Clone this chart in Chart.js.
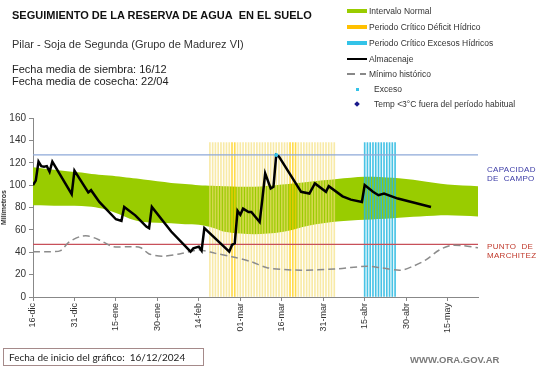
<!DOCTYPE html>
<html>
<head>
<meta charset="utf-8">
<script src="https://cdn.jsdelivr.net/npm/chart.js@4"></script>
<style>
  body { margin: 0; background: #fff; font-family: "Liberation Sans", Arial, sans-serif; color: #222; }
  #wrap { position: absolute; left: 0; top: 0; width: 541px; height: 368px; }
  .txt { position: absolute; white-space: nowrap; }
  .leg { position: absolute; font-size: 8.5px; color: #333; white-space: nowrap; line-height: 10px; }
  .sw { position: absolute; }
</style>
</head>
<body>
<div id="wrap"><canvas id="chart"></canvas></div>

<div class="txt" style="left:12px;top:9px;font-size:11px;font-weight:bold;color:#111;">SEGUIMIENTO DE LA RESERVA DE AGUA&nbsp; EN EL SUELO</div>
<div class="txt" style="left:12px;top:38px;font-size:11px;color:#333;">Pilar - Soja de Segunda (Grupo de Madurez VI)</div>
<div class="txt" style="left:12px;top:63px;font-size:11px;line-height:12px;color:#222;">Fecha media de siembra: 16/12<br>Fecha media de cosecha: 22/04</div>

<div class="sw" style="left:347px;top:9px;width:20px;height:4px;background:#99cc00;"></div>
<div class="leg" style="left:369px;top:6px;">Intervalo Normal</div>
<div class="sw" style="left:347px;top:25px;width:20px;height:4px;background:#ffc000;"></div>
<div class="leg" style="left:369px;top:22px;">Periodo Crítico Déficit Hídrico</div>
<div class="sw" style="left:347px;top:41px;width:20px;height:4px;background:#33c3e8;"></div>
<div class="leg" style="left:369px;top:38px;">Periodo Crítico Excesos Hídricos</div>
<div class="sw" style="left:347px;top:58px;width:20px;height:2px;background:#000;"></div>
<div class="leg" style="left:369px;top:54px;">Almacenaje</div>
<div class="sw" style="left:347px;top:73px;width:8px;height:1.5px;background:#888;"></div>
<div class="sw" style="left:360px;top:73px;width:6px;height:1.5px;background:#888;"></div>
<div class="leg" style="left:369px;top:69px;">Mínimo histórico</div>
<div class="sw" style="left:356px;top:88px;width:3px;height:3px;background:#33c3e8;"></div>
<div class="leg" style="left:374px;top:84px;">Exceso</div>
<div class="sw" style="left:355px;top:102px;width:4px;height:4px;background:#1a1a8c;transform:rotate(45deg);"></div>
<div class="leg" style="left:374px;top:99px;">Temp &lt;3°C fuera del período habitual</div>

<div class="txt" style="left:487px;top:165px;font-size:8px;line-height:9px;color:#3b3ba6;letter-spacing:0.3px;">CAPACIDAD<br>DE&nbsp; CAMPO</div>
<div class="txt" style="left:487px;top:242px;font-size:8px;line-height:9px;color:#c0392b;letter-spacing:0.3px;">PUNTO&nbsp; DE<br>MARCHITEZ</div>

<div class="txt" style="left:3px;top:348px;height:18px;border:1px solid #a58a8a;font-family:Lato,sans-serif;font-size:10px;line-height:17px;color:#222;padding-left:5px;box-sizing:border-box;width:201px;">Fecha de inicio del gráfico:&nbsp; 16/12/2024</div>
<div class="txt" style="left:410px;top:354px;font-size:9.5px;font-weight:bold;color:#7a7a7a;">WWW.ORA.GOV.AR</div>

<script>
// eje x en días desde el 16-dic
const xTickDays = [0, 15, 30, 45, 60, 75, 90, 105, 120, 135, 150];
const xTickLabels = ["16-dic", "31-dic", "15-ene", "30-ene", "14-feb", "01-mar", "16-mar", "31-mar", "15-abr", "30-abr", "15-may"];
const xMaxDay = 161;

// intervalo normal
const bandDays  = [0,   10,   20,    25,  30,  35,    40,  50,  55,  60,  65,   70, 80,   90,    100, 110,   120,   130,   140, 150,   161];
const bandUpper = [116, 113,  110.5, 109, 108, 106.5, 105, 102, 101, 100, 99.5, 99, 98.5, 100.5, 103, 105.5, 107.5, 106.5, 104, 100.5, 99];
const bandLower = [82,  81.5, 81,    79,  75,  70,    67,  66,  65,  64.5, 62,  58, 56,   58,    64,  67.5,  69,    70.5,  72,  73,    72];

// mínimo histórico
const minDays   = [0,    6,    10,   13, 17, 20,   24, 29, 35, 39, 42,   47,   53,   60, 66, 72, 79,   85, 97, 109, 121,  126, 133, 137, 142, 147, 151, 155, 161];
const minValues = [40.5, 40.5, 41.5, 49, 54, 54.5, 51, 45, 45, 44, 38.5, 36.5, 38.5, 42, 39, 36, 31.5, 26, 24, 25,  27.5, 26,  24,  27,  33,  42,  46,  46,  44];

// almacenaje
const storeDays   = [0,   1,   2,   3,   4,     5,   6,   7,   14, 15,  20,   21,   24, 30,   32, 33,   37, 38,   41, 42,   43,   50,   57,   58,   60, 61,   62,   71,   72,   73, 74, 75,   76, 78, 79, 82, 83, 84,    86, 87,   88,  89,    97, 100,  102,   106, 107, 112, 115, 119, 120, 123, 125, 127,  132, 144];
const storeValues = [100, 104, 121, 117, 116.5, 117, 112, 121, 92, 113, 93.5, 95.5, 85, 69.5, 68, 80.5, 73, 70.5, 63, 61.5, 80.5, 58.5, 40.5, 43.5, 45, 41.5, 61.5, 40.5, 46.5, 48, 77, 73.5, 79, 76, 76, 67, 88, 110.5, 97, 98.5, 127, 125.5, 94, 92.5, 101.5, 94,  99,  90,  87,  85,  100, 94,  91,  92.5, 88,  80.5];

// excesos puntuales
const excessDays = [88];
const excessValues = [127];

// periodos críticos (días)
const deficitPeriod = [64, 109];
const deficitStrongDays = [72, 73, 93, 94, 95];
const excessPeriod = [120, 131];
const periodTop = 138;

const fieldCapacity = 127;
const wiltingPoint = 47;

function toPoints(xs, ys) {
  return xs.map((x, i) => ({ x: x, y: ys[i] }));
}

function periodBars(period, top) {
  const pts = [];
  for (let d = period[0]; d <= period[1]; d++) {
    pts.push({ x: d, y: top });
  }
  return pts;
}

const deficitBars = periodBars(deficitPeriod, periodTop);
const excessBars = periodBars(excessPeriod, periodTop);

const ctx = document.getElementById("chart").getContext("2d");

new Chart(ctx, {
  type: "line",
  data: {
    datasets: [
      {
        type: "line",
        data: toPoints(excessDays, excessValues),
        showLine: false,
        pointRadius: 2,
        pointBackgroundColor: "#33c3e8",
        pointBorderWidth: 0,
        order: 0
      },
      {
        type: "line",
        data: toPoints(storeDays, storeValues),
        borderColor: "#000",
        borderWidth: 2.5,
        pointRadius: 0,
        tension: 0,
        fill: false,
        order: 1
      },
      {
        type: "line",
        data: toPoints(minDays, minValues),
        borderColor: "#8c8c8c",
        borderWidth: 1.5,
        borderDash: [7, 4],
        pointRadius: 0,
        tension: 0.3,
        fill: false,
        order: 2
      },
      {
        type: "line",
        data: [{ x: 0, y: fieldCapacity }, { x: xMaxDay, y: fieldCapacity }],
        borderColor: "#8ea9d8",
        borderWidth: 1.2,
        pointRadius: 0,
        fill: false,
        order: 3
      },
      {
        type: "line",
        data: [{ x: 0, y: wiltingPoint }, { x: xMaxDay, y: wiltingPoint }],
        borderColor: "#c8505a",
        borderWidth: 1.2,
        pointRadius: 0,
        fill: false,
        order: 3
      },
      {
        type: "bar",
        data: deficitBars,
        backgroundColor: deficitBars.map(p => deficitStrongDays.includes(p.x) ? "rgba(255,204,0,0.7)" : "rgba(245,222,120,0.65)"),
        barThickness: 1,
        grouped: false,
        order: 4
      },
      {
        type: "bar",
        data: excessBars,
        backgroundColor: "rgba(40,185,225,0.85)",
        barThickness: 1,
        grouped: false,
        order: 4
      },
      {
        type: "line",
        data: toPoints(bandDays, bandUpper),
        borderWidth: 0,
        borderColor: "rgba(0,0,0,0)",
        pointRadius: 0,
        tension: 0.3,
        backgroundColor: "#99cc00",
        fill: "+1",
        order: 5
      },
      {
        type: "line",
        data: toPoints(bandDays, bandLower),
        borderWidth: 0,
        borderColor: "rgba(0,0,0,0)",
        pointRadius: 0,
        tension: 0.3,
        fill: false,
        order: 6
      }
    ]
  },
  options: {
    responsive: true,
    maintainAspectRatio: false,
    animation: false,
    layout: {
      padding: { left: 0, top: 118, right: 63, bottom: 0 }
    },
    plugins: {
      legend: { display: false },
      tooltip: { enabled: false }
    },
    scales: {
      x: {
        type: "linear",
        min: 0,
        max: xMaxDay,
        offset: false,
        afterBuildTicks: function (scale) {
          scale.ticks = xTickDays.map(v => ({ value: v }));
        },
        afterFit: function (scale) {
          scale.height = 71;
        },
        grid: { drawOnChartArea: false, drawTicks: true, tickLength: 4, color: "#888", offset: false },
        border: { color: "#888", width: 1 },
        ticks: {
          autoSkip: false,
          minRotation: 90,
          maxRotation: 90,
          padding: 2,
          color: "#333",
          font: { family: "Liberation Sans", size: 9 },
          callback: function (value, index) {
            return xTickLabels[index];
          }
        }
      },
      y: {
        min: 0,
        max: 160,
        afterFit: function (scale) {
          scale.width = 33;
        },
        grid: { drawOnChartArea: false, drawTicks: true, tickLength: 4, color: "#888" },
        border: { color: "#888", width: 1 },
        title: {
          display: true,
          text: "Milímetros",
          color: "#333",
          padding: 0,
          font: { family: "Liberation Sans", size: 7, weight: "bold" }
        },
        ticks: {
          stepSize: 20,
          padding: 3,
          color: "#333",
          font: { family: "Liberation Sans", size: 10 }
        }
      }
    }
  }
});
</script>
</body>
</html>
